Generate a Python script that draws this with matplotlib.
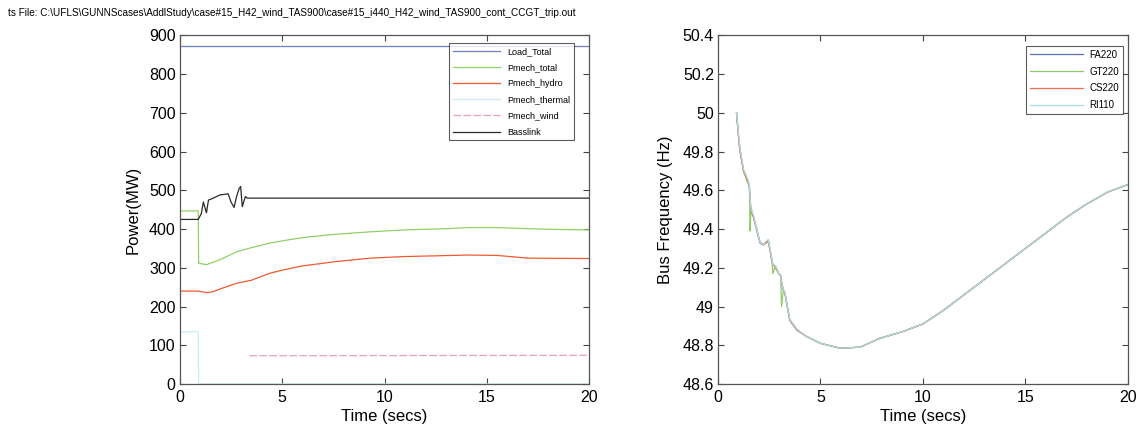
import matplotlib.pyplot as plt

plt.rcParams['font.family'] = ['Liberation Sans', 'DejaVu Sans']

# --- left panel: power (MW) ---
t_load = [0, 20]
load_total = [873, 873]

t_total = [0, 0.9, 0.92, 1.3, 2.0, 2.8, 3.5, 4.4, 5.5, 6.3, 7.5, 9.3, 11, 13, 14.1, 15.5, 17, 18.5, 20]
pmech_total = [447, 447, 312, 308, 322, 342, 352, 364, 374, 380, 386, 393, 398, 401, 404, 404, 401, 399, 398]

t_hydro = [0, 0.9, 1.3, 1.6, 2.0, 2.77, 3.5, 4.4, 5.0, 6.0, 7.6, 9.3, 10.9, 12.5, 14.1, 15.5, 17, 20]
pmech_hydro = [240, 240, 236, 238, 246, 260, 268, 286, 294, 305, 316, 325, 329, 331, 333, 332, 325, 324]

t_thermal = [0, 0.9, 0.92, 20]
pmech_thermal = [135, 135, 0, 0]

t_wind = [3.4, 20]
pmech_wind = [73, 74]

t_bass = [0, 0.9, 1.05, 1.15, 1.3, 1.4, 1.55, 1.95, 2.2, 2.36, 2.5, 2.65, 2.77, 2.9, 2.97, 3.05, 3.2, 3.3, 20]
basslink = [425, 425, 440, 470, 442, 475, 478, 488, 490, 491, 470, 456, 484, 505, 510, 458, 484, 480, 480]

# --- right panel: bus frequency (Hz) ---
t_freq = [0.9, 1.0, 1.07, 1.24, 1.48, 1.53, 1.56, 1.6, 1.73, 1.89, 2.05, 2.21, 2.37, 2.45,
          2.62, 2.67, 2.8, 2.96, 3.05, 3.1, 3.18, 3.26, 3.5, 3.84, 4.33, 5.0, 5.95, 6.93,
          7.9, 9.0, 10.0, 11.0, 12.0, 13.0, 14.0, 15.0, 16.0, 17.0, 18.0, 19.0, 20.0]
fa220 = [50.0, 49.88, 49.81, 49.705, 49.64, 49.62, 49.55, 49.50, 49.464, 49.395, 49.327, 49.318, 49.335, 49.344,
         49.24, 49.22, 49.206, 49.17, 49.163, 49.12, 49.085, 49.07, 48.93, 48.88, 48.845, 48.81, 48.785, 48.79,
         48.836, 48.87, 48.91, 48.98, 49.06, 49.14, 49.22, 49.30, 49.38, 49.46, 49.53, 49.59, 49.63]
gt220 = [50.0, 49.88, 49.81, 49.70, 49.63, 49.62, 49.39, 49.49, 49.46, 49.39, 49.33, 49.32, 49.33, 49.34,
         49.25, 49.17, 49.21, 49.17, 49.16, 49.00, 49.08, 49.07, 48.93, 48.88, 48.845, 48.81, 48.785, 48.79,
         48.836, 48.87, 48.91, 48.98, 49.06, 49.14, 49.22, 49.30, 49.38, 49.46, 49.53, 49.59, 49.63]
cs220 = [50.0, 49.87, 49.80, 49.70, 49.64, 49.61, 49.56, 49.51, 49.46, 49.40, 49.33, 49.32, 49.33, 49.34,
         49.24, 49.22, 49.20, 49.17, 49.16, 49.13, 49.09, 49.07, 48.93, 48.88, 48.845, 48.81, 48.785, 48.79,
         48.836, 48.87, 48.91, 48.98, 49.06, 49.14, 49.22, 49.30, 49.38, 49.46, 49.53, 49.59, 49.63]
ri110 = [50.0, 49.89, 49.82, 49.71, 49.65, 49.62, 49.56, 49.51, 49.47, 49.40, 49.33, 49.32, 49.34, 49.345,
         49.25, 49.22, 49.21, 49.17, 49.165, 49.12, 49.09, 49.07, 48.935, 48.885, 48.845, 48.81, 48.785, 48.79,
         48.836, 48.87, 48.91, 48.98, 49.06, 49.14, 49.22, 49.30, 49.38, 49.46, 49.53, 49.59, 49.63]

fig = plt.figure(figsize=(11.38, 4.25), dpi=100)
ax1 = fig.add_axes([0.158, 0.0965, 0.360, 0.820])
ax2 = fig.add_axes([0.631, 0.0965, 0.360, 0.820])

lw = 0.9
ax1.plot(t_load, load_total, color='#6a7fc4', lw=lw, label='Load_Total')
ax1.plot(t_total, pmech_total, color='#8fd068', lw=lw, label='Pmech_total')
ax1.plot(t_hydro, pmech_hydro, color='#f05a30', lw=lw, label='Pmech_hydro')
ax1.plot(t_thermal, pmech_thermal, color='#cdebf2', lw=lw, label='Pmech_thermal')
ax1.plot(t_wind, pmech_wind, color='#eca0b4', lw=lw, ls=(0, (6, 2)), label='Pmech_wind')
ax1.plot(t_bass, basslink, color='#2a2a2a', lw=lw, label='Basslink')
ax1.set_xlim(0, 20)
ax1.set_ylim(0, 900)
ax1.set_yticks(range(0, 901, 100))
ax1.set_ylabel('Power(MW)', fontsize=12)
ax1.yaxis.set_label_coords(-0.095, 0.5)

ax2.plot(t_freq, fa220, color='#5a70b8', lw=lw, label='FA220')
ax2.plot(t_freq, gt220, color='#8fcc68', lw=lw, label='GT220')
ax2.plot(t_freq, cs220, color='#f07050', lw=lw, label='CS220')
ax2.plot(t_freq, ri110, color='#a8dce6', lw=lw, label='RI110')
ax2.set_xlim(0, 20)
ax2.set_ylim(48.6, 50.4)
ax2.set_yticks([48.6, 48.8, 49, 49.2, 49.4, 49.6, 49.8, 50, 50.2, 50.4])
ax2.set_yticklabels(['48.6', '48.8', '49', '49.2', '49.4', '49.6', '49.8', '50', '50.2', '50.4'])
ax2.set_ylabel('Bus Frequency (Hz)', fontsize=12)
ax2.yaxis.set_label_coords(-0.11, 0.5)

for ax in (ax1, ax2):
    ax.set_xticks([0, 5, 10, 15, 20])
    ax.set_xlabel('Time (secs)', fontsize=12)
    ax.xaxis.set_label_coords(0.5, -0.072)
    ax.tick_params(direction='in', top=True, right=True, labelsize=11.5, length=4,
                   width=0.8, color='#444444')
    ax.tick_params(axis='x', pad=4)
    ax.tick_params(axis='y', pad=3)
    for s in ax.spines.values():
        s.set_color('#555555')
        s.set_linewidth(0.9)

leg1 = ax1.legend(loc='upper right', bbox_to_anchor=(0.963, 0.978), borderaxespad=0,
                  fontsize=6.5, handlelength=5.3, handletextpad=0.8, frameon=True,
                  fancybox=False, edgecolor='#333333', labelspacing=0.8)
leg1.get_frame().set_linewidth(0.8)
leg2 = ax2.legend(loc='upper right', bbox_to_anchor=(0.988, 0.97), borderaxespad=0,
                  fontsize=7, handlelength=5.4, handletextpad=0.7, frameon=True,
                  fancybox=False, edgecolor='#333333', labelspacing=0.7)
leg2.get_frame().set_linewidth(0.8)

fig.text(0.007, 0.97, 'ts File: C:\\UFLS\\GUNNScases\\AddlStudy\\case#15_H42_wind_TAS900\\case#15_i440_H42_wind_TAS900_cont_CCGT_trip.out',
         fontsize=7.2, ha='left', va='center')

fig.savefig('out.png', dpi=100)
